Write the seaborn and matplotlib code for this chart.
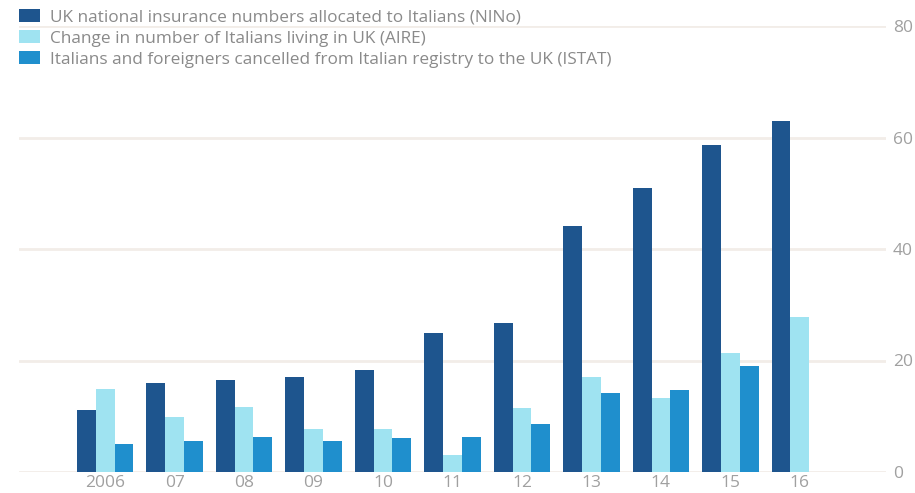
import matplotlib
matplotlib.use("Agg")
import matplotlib.pyplot as plt
import seaborn as sns
import pandas as pd
import numpy as np

years = ["2006", "07", "08", "09", "10", "11", "12", "13", "14", "15", "16"]
series = [
    "UK national insurance numbers allocated to Italians (NINo)",
    "Change in number of Italians living in UK (AIRE)",
    "Italians and foreigners cancelled from Italian registry to the UK (ISTAT)",
]
nino = [11.1, 15.9, 16.5, 17.1, 18.3, 25.0, 26.8, 44.1, 50.9, 58.7, 62.9]
aire = [14.8, 9.9, 11.6, 7.8, 7.8, 3.0, 11.5, 17.1, 13.3, 21.4, 27.8]
istat = [5.0, 5.6, 6.2, 5.6, 6.1, 6.2, 8.6, 14.1, 14.7, 19.0, np.nan]
colors = ["#1e558e", "#9fe3f1", "#1f8fcd"]
yticks = [0, 20, 40, 60, 80]

rows = []
for s, vals in zip(series, [nino, aire, istat]):
    for y, v in zip(years, vals):
        rows.append({"year": y, "series": s, "value": v})
df = pd.DataFrame(rows)

sns.set_theme(style="white")
plt.rcParams["font.family"] = ["Open Sans", "DejaVu Sans"]

fig = plt.figure(figsize=(9.15, 4.93), dpi=100)
ax = fig.add_axes([19/915, (493-472)/493, (886-19)/915, (472-26)/493])

sns.barplot(data=df, x="year", y="value", hue="series", order=years,
            hue_order=series, palette=colors, width=0.81, gap=0,
            saturation=1, ax=ax, zorder=3, linewidth=0)

ax.set_xlim(-1.24, 11.24)
ax.set_ylim(0, 80)
ax.set_yticks(yticks)
ax.set_yticklabels([str(t) for t in yticks])
ax.yaxis.tick_right()
ax.tick_params(axis="y", length=0, pad=5, labelsize=12.5, labelcolor="#a0a0a0")
ax.tick_params(axis="x", length=0, pad=2.5, labelsize=12.5, labelcolor="#a0a0a0")
ax.set_xlabel("")
ax.set_ylabel("")
for sp in ax.spines.values():
    sp.set_visible(False)
ax.grid(axis="y", color="#f2ede8", linewidth=2, zorder=0)
ax.set_axisbelow(True)

handles, labels = ax.get_legend_handles_labels()
ax.get_legend().remove()
leg = fig.legend(handles, labels, loc="upper left",
                 bbox_to_anchor=(19/915, 1 - 9/493),
                 frameon=False, fontsize=12.4, handlelength=1.22,
                 handleheight=0.76, handletextpad=0.58, labelspacing=0.28,
                 borderpad=0, borderaxespad=0)
for t in leg.get_texts():
    t.set_color("#8a8a8a")

fig.savefig("out.png", dpi=100)
